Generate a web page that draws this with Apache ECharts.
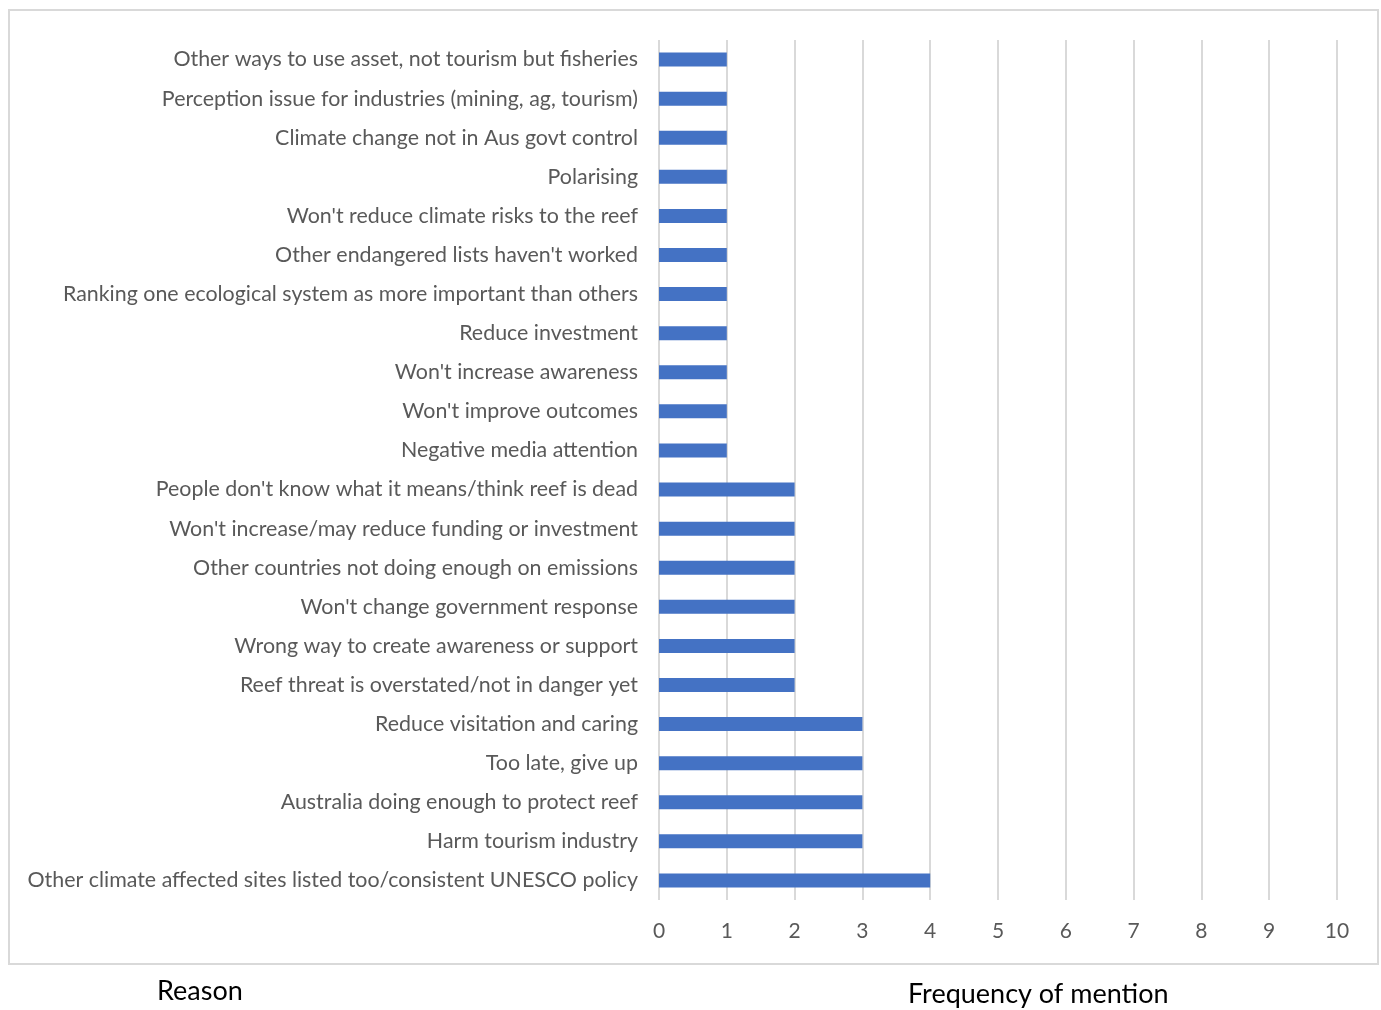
<!DOCTYPE html>
<html>
<head>
<meta charset="utf-8">
<script src="https://cdn.jsdelivr.net/npm/echarts@6/dist/echarts.min.js"></script>
<style>html,body{margin:0;padding:0;background:#fff;}#c{width:1381px;height:1010px;}</style>
</head>
<body>
<div id="c"></div>
<script>
const categories = [
  "Other ways to use asset, not tourism but fisheries",
  "Perception issue for industries (mining, ag, tourism)",
  "Climate change not in Aus govt control",
  "Polarising",
  "Won't reduce climate risks to the reef",
  "Other endangered lists haven't worked",
  "Ranking one ecological system as more important than others",
  "Reduce investment",
  "Won't increase awareness",
  "Won't improve outcomes",
  "Negative media attention",
  "People don't know what it means/think reef is dead",
  "Won't increase/may reduce funding or investment",
  "Other countries not doing enough on emissions",
  "Won't change government response",
  "Wrong way to create awareness or support",
  "Reef threat is overstated/not in danger yet",
  "Reduce visitation and caring",
  "Too late, give up",
  "Australia doing enough to protect reef",
  "Harm tourism industry",
  "Other climate affected sites listed too/consistent UNESCO policy"
];
const frequency = [1,1,1,1,1,1,1,1,1,1,1,2,2,2,2,2,2,3,3,3,3,4];
const xTicks = [0,1,2,3,4,5,6,7,8,9,10];
const axisTitleY = "Reason";
const axisTitleX = "Frequency of mention";

const FONT = "Lato, 'Liberation Sans', sans-serif";
const chart = echarts.init(document.getElementById('c'), null, {renderer:'canvas'});
chart.setOption({
  animation: false,
  backgroundColor: '#fff',
  graphic: [
    {type:'rect', shape:{x:9, y:10, width:1369, height:954}, style:{fill:'none', stroke:'#D9D9D9', lineWidth:2}, z:-1},
    {type:'text', left:157, top:978, style:{text:axisTitleY, font:"27px " + FONT, fill:'#000'}},
    {type:'text', left:908, top:981, style:{text:axisTitleX, font:"27px " + FONT, fill:'#000'}}
  ],
  grid: {left:659, right:44, top:40, bottom:110, containLabel:false},
  xAxis: {
    type:'value', min:xTicks[0], max:xTicks[xTicks.length-1], interval:1,
    axisLine:{show:false}, axisTick:{show:false},
    splitLine:{show:true, lineStyle:{color:'#D9D9D9', width:2}},
    axisLabel:{color:'#595959', fontSize:21, fontFamily:FONT, margin:21}
  },
  yAxis: {
    type:'category', data:categories, inverse:true,
    axisLine:{show:false}, axisTick:{show:false},
    axisLabel:{color:'#595959', fontSize:21.4, fontFamily:FONT, margin:21, interval:0}
  },
  series: [{
    type:'bar', data:frequency, barWidth:14,
    itemStyle:{color:'#4472C4'}
  }]
});
</script>
</body>
</html>
